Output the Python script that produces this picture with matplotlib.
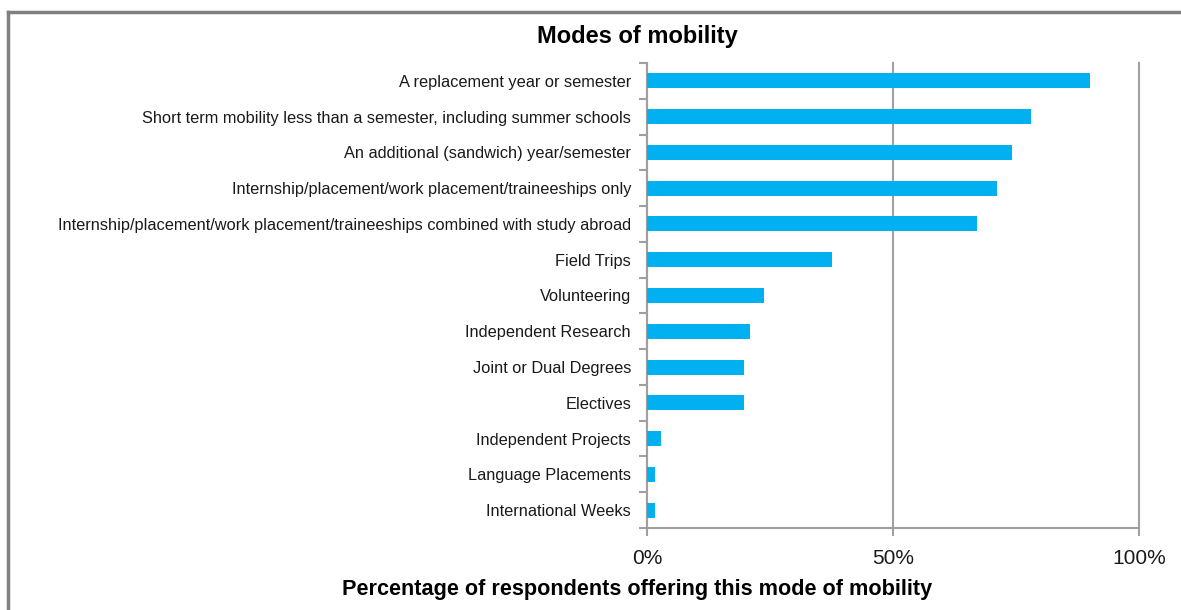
import matplotlib
matplotlib.use("Agg")
import matplotlib.pyplot as plt
from matplotlib.lines import Line2D
from matplotlib.ticker import FixedLocator, FuncFormatter
import numpy as np

categories = [
    "A replacement year or semester",
    "Short term mobility less than a semester, including summer schools",
    "An additional (sandwich) year/semester",
    "Internship/placement/work placement/traineeships only",
    "Internship/placement/work placement/traineeships combined with study abroad",
    "Field Trips",
    "Volunteering",
    "Independent Research",
    "Joint or Dual Degrees",
    "Electives",
    "Independent Projects",
    "Language Placements",
    "International Weeks",
]
values = [90.0, 78.0, 74.2, 71.1, 67.1, 37.6, 23.8, 20.9, 19.7, 19.7, 2.8, 1.6, 1.6]
xticks = [0, 50, 100]

plt.rcParams['font.family'] = ['Liberation Sans', 'DejaVu Sans']
grey = '#A0A0A0'
txt = '#1a1a1a'

fig = plt.figure(figsize=(11.81, 6.10), dpi=100)
ax = fig.add_axes([647/1181, 1-528/610, (1139-647)/1181, (528-63)/610])

y = np.arange(len(categories))
ax.barh(y, values, height=0.42, color='#00B0F0', zorder=3)
ax.set_xlim(0, 100)
ax.set_ylim(len(categories)-0.5, -0.5)

ax.xaxis.set_major_locator(FixedLocator(xticks))
ax.xaxis.set_major_formatter(FuncFormatter(lambda v, p: f"{int(v)}%"))
ax.grid(axis='x', color=grey, linewidth=1.5, zorder=0)
for gl in ax.get_xgridlines():
    gl.set_clip_on(False)
ax.tick_params(axis='x', length=6, width=1.5, color=grey, labelsize=15, labelcolor=txt, pad=9)

ax.set_yticks(y)
ax.set_yticklabels(categories)
ax.yaxis.set_minor_locator(FixedLocator(np.arange(-0.5, len(categories), 1.0)))
ax.tick_params(axis='y', which='major', length=0, labelsize=11.8, labelcolor=txt, pad=11.5)
ax.tick_params(axis='y', which='minor', length=6, width=1.5, color=grey)

for s in ['top', 'right']:
    ax.spines[s].set_visible(False)
for s in ['left', 'bottom']:
    ax.spines[s].set_color(grey)
    ax.spines[s].set_linewidth(1.5)

fig.text(637/1181, 1-37/610, "Modes of mobility", ha='center', va='center',
         fontsize=17, fontweight='bold', color='black')
fig.text(637/1181, 1-590/610, "Percentage of respondents offering this mode of mobility",
         ha='center', va='center', fontsize=15.6, fontweight='bold', color='black')

# outer frame (left and top edges visible)
fig.add_artist(Line2D([8/1181, 8/1181], [0, 1-12/610], transform=fig.transFigure,
                      color='#808080', linewidth=2.5))
fig.add_artist(Line2D([8/1181, 1], [1-12/610, 1-12/610], transform=fig.transFigure,
                      color='#808080', linewidth=2.5))

fig.savefig("out.png", dpi=100)
